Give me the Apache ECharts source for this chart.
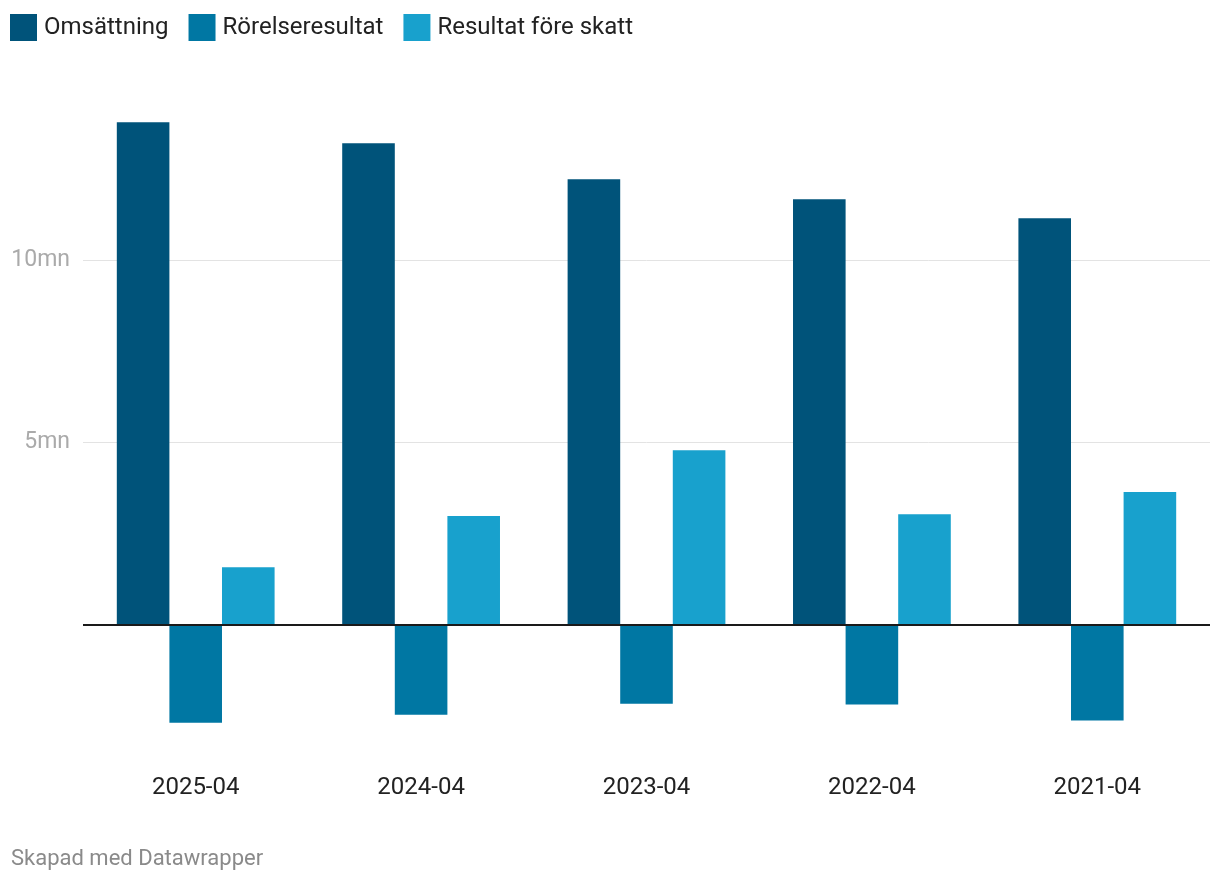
<!DOCTYPE html>
<html><head><meta charset="utf-8">
<script src="https://cdn.jsdelivr.net/npm/echarts@6/dist/echarts.min.js"></script>
<style>html,body{margin:0;padding:0;background:#fff;}#c{width:1220px;height:882px;}</style>
</head><body><div id="c"></div>
<script>
const categories = ['2025-04','2024-04','2023-04','2022-04','2021-04'];
const omsattning = [13.8, 13.22, 12.23, 11.68, 11.16];
const rorelseresultat = [-2.70, -2.48, -2.18, -2.20, -2.64];
const resultatForeSkatt = [1.57, 2.98, 4.79, 3.03, 3.64];
const yTickLabels = {'5':'5mn','10':'10mn'};
const seriesNames = ['Omsättning','Rörelseresultat','Resultat före skatt'];
const colors = ['#00537a','#0077a3','#18a1cd'];

const chart = echarts.init(document.getElementById('c'), null, {renderer:'canvas'});
chart.setOption({
  animation:false,
  textStyle:{fontFamily:'Roboto'},
  color: colors,
  legend:{
    left:10, top:14, padding:0, itemWidth:27, itemHeight:27, itemGap:20,
    icon:'rect',
    textStyle:{fontSize:24, color:'#222', fontFamily:'Roboto', padding:[3,0,0,2]},
    data: seriesNames
  },
  graphic:[{type:'text', left:11, top:848, style:{text:'Skapad med Datawrapper', fill:'#8a8a8a', font:'22px Roboto'}}],
  grid:{left:83, right:10, top:78.5, bottom:75.5, containLabel:false},
  xAxis:{
    type:'category', data:categories,
    axisLine:{show:false}, axisTick:{show:false},
    axisLabel:{fontSize:24, color:'#222', margin:-31, fontFamily:'Roboto'}
  },
  yAxis:{
    type:'value', min:-5, max:15, interval:5,
    axisLine:{show:false}, axisTick:{show:false},
    axisLabel:{fontSize:23, color:'#aaa', margin:13, fontFamily:'Roboto', verticalAlign:'middle', padding:[11,0,0,0],
      formatter:v=>yTickLabels[String(v)]||''},
    splitLine:{show:true, lineStyle:{color:['rgba(0,0,0,0)','#1a1a1a','#e3e3e3','#e3e3e3','rgba(0,0,0,0)'], width:1}}
  },
  series:[
    {name:seriesNames[0], type:'bar', data:omsattning, barGap:'0%', barCategoryGap:'30%', z:3},
    {name:seriesNames[1], type:'bar', data:rorelseresultat, barGap:'0%', barCategoryGap:'30%', z:3},
    {name:seriesNames[2], type:'bar', data:resultatForeSkatt, barGap:'0%', barCategoryGap:'30%', z:3,
     markLine:{silent:true, symbol:'none', label:{show:false}, lineStyle:{color:'#1a1a1a', width:2, type:'solid'}, data:[{yAxis:0}], z:5}}
  ]
});
</script></body></html>
